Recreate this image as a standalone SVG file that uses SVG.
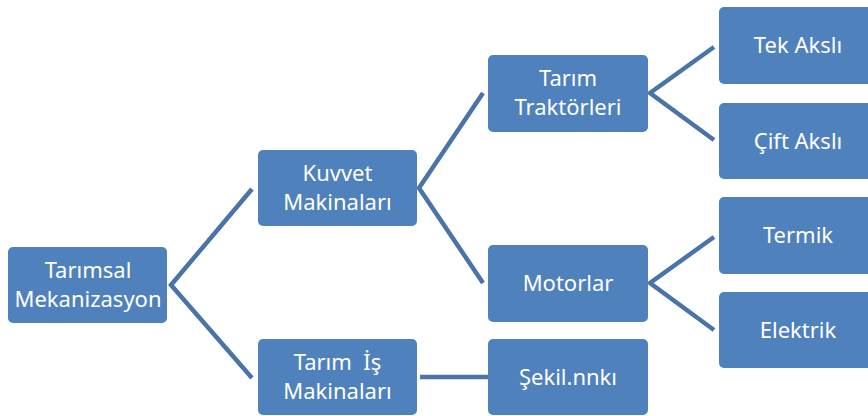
<svg xmlns="http://www.w3.org/2000/svg" width="868" height="416" viewBox="0 0 868 416">
<style>
.box{fill:#4F81BD;stroke:none}
.t{font-family:"Noto Sans","Liberation Sans",Arial,sans-serif;font-size:22px;fill:#FFFFFF;text-anchor:middle}
.c{fill:none;stroke:#4A74A8;stroke-width:4.5;stroke-linejoin:miter}
</style>
<rect width="868" height="416" fill="#FFFFFF"/>
<g id="connectors">
<polyline class="c" points="252,189 171,285 252,378"/>
<polyline class="c" points="483,93 419,188 483,283"/>
<line class="c" x1="420" y1="377" x2="488" y2="377"/>
<polyline class="c" points="714,47 650,93 714,140"/>
<polyline class="c" points="714,237 650,283 714,330"/>
</g>
<g id="n-tarimsal"><rect class="box" x="8" y="247" width="159" height="76" rx="5"/><text class="t" x="88" y="278">Tarımsal</text><text class="t" x="88" y="307">Mekanizasyon</text></g>
<g id="n-kuvvet"><rect class="box" x="258" y="150" width="159" height="76" rx="5"/><text class="t" x="337.5" y="181">Kuvvet</text><text class="t" x="337.5" y="210">Makinaları</text></g>
<g id="n-tarimis"><rect class="box" x="258" y="339" width="159" height="76" rx="5"/><text class="t" x="337.5" y="370" xml:space="preserve">Tarım  İş</text><text class="t" x="337.5" y="399">Makinaları</text></g>
<g id="n-traktor"><rect class="box" x="488" y="55" width="160" height="77" rx="5"/><text class="t" x="568" y="86">Tarım</text><text class="t" x="568" y="115">Traktörleri</text></g>
<g id="n-motorlar"><rect class="box" x="488" y="245" width="160" height="77" rx="5"/><text class="t" x="568" y="291">Motorlar</text></g>
<g id="n-sekil"><rect class="box" x="488" y="339" width="160" height="76" rx="5"/><text class="t" x="568" y="385">Şekil.nnkı</text></g>
<g id="n-tek"><rect class="box" x="719" y="7" width="160" height="77" rx="5"/><text class="t" x="798" y="53">Tek Akslı</text></g>
<g id="n-cift"><rect class="box" x="719" y="103" width="160" height="76" rx="5"/><text class="t" x="798" y="149">Çift Akslı</text></g>
<g id="n-termik"><rect class="box" x="719" y="197" width="160" height="77" rx="5"/><text class="t" x="798" y="243">Termik</text></g>
<g id="n-elektrik"><rect class="box" x="719" y="292" width="160" height="76" rx="5"/><text class="t" x="798" y="338">Elektrik</text></g>
</svg>
